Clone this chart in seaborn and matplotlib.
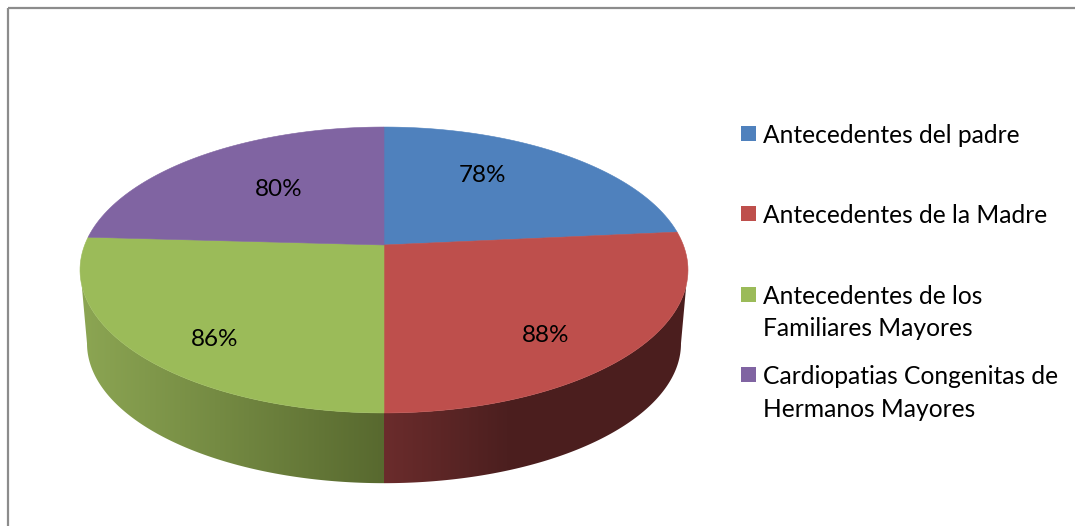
import numpy as np
import matplotlib
matplotlib.use("Agg")
import matplotlib.pyplot as plt
import seaborn as sns
from matplotlib.colors import LinearSegmentedColormap
from matplotlib.patches import Polygon, Rectangle
from matplotlib.path import Path
from matplotlib.transforms import Affine2D, Transform

# ---- data ----
categories = ["Antecedentes del padre", "Antecedentes de la Madre",
              "Antecedentes de los\nFamiliares Mayores",
              "Cardiopatias Congenitas de\nHermanos Mayores"]
values = [78, 88, 86, 80]
colors = ["#4F81BD", "#BE4F4C", "#9BBB59", "#8064A2"]

# ---- layout (figure pixels) ----
W, H = 1075, 526
CX, CY = 384, 245          # pie apex on screen
A, B, K = 299.3, 138.6, 0.1748   # perspective of the lid
DEPTH_CY, DEPTH_S = 343.5, 0.977  # floor ellipse
VIS_FROM, VIS_TO = 106, 254      # visible rim, degrees clockwise from top
BOTTOM_FROM, BOTTOM_TO = 100, 260
pct_xy = [(482, 176), (546, 335), (215, 339), (279, 190)]
swatch_y = [126, 206, 287, 367]
text_base = [[143], [223], [304, 336], [384, 417]]
side_ramps = {1: (384, 690, [(0, "#6B2C2C"), (0.4, "#4C1F1F"), (1, "#4B1E1E")]),
              2: (80, 384, [(0, "#8CA653"), (1, "#58692F")])}

sns.set_theme(style="white")
plt.rcParams["font.family"] = ["Lato", "DejaVu Sans"]


class Perspective(Transform):
    input_dims = output_dims = 2

    def transform_non_affine(self, xy):
        xy = np.asarray(xy, float)
        w = 1 + K * xy[:, 1]
        return np.column_stack([CX + A * xy[:, 0] / w, CY - B * xy[:, 1] / w])

    def transform_path_non_affine(self, path):
        polys = path.to_polygons(Affine2D().scale(2000))
        verts = np.concatenate(polys) / 2000
        return Path(self.transform_non_affine(verts))


def rim(deg):
    a = np.radians(deg)
    return Perspective().transform_non_affine(np.column_stack([np.sin(a), np.cos(a)]))


def floor(deg):
    p = rim(deg)
    cy = CY + B * K / (1 - K ** 2)
    return np.column_stack([CX + (p[:, 0] - CX) * DEPTH_S,
                            DEPTH_CY + (p[:, 1] - cy) * DEPTH_S])


fig = plt.figure(figsize=(W / 100, H / 100), dpi=100, facecolor="white")
ax = fig.add_axes([0, 0, 1, 1])
wedges, _ = ax.pie(values, colors=sns.color_palette(colors), startangle=90,
                   counterclock=False, radius=1,
                   wedgeprops=dict(linewidth=0.4, zorder=5))
proj = Perspective()
for wd in wedges:
    wd.set_edgecolor(wd.get_facecolor())
    wd.set_transform(proj + ax.transData)

# pie side wall
for i, wd in enumerate(wedges):
    if i not in side_ramps:
        continue
    a1, a2 = 90 - wd.theta2, 90 - wd.theta1
    lo_t, hi_t = max(a1, VIS_FROM), min(a2, VIS_TO)
    lo_b, hi_b = max(a1, BOTTOM_FROM), min(a2, BOTTOM_TO)
    x0, x1, stops = side_ramps[i]
    poly = np.vstack([rim(np.linspace(lo_t, hi_t, 120)),
                      floor(np.linspace(hi_b, lo_b, 120))])
    cmap = LinearSegmentedColormap.from_list(f"side{i}", stops)
    im = ax.imshow(np.linspace(0, 1, 256)[None, :], cmap=cmap, aspect="auto",
                   extent=(x0, x1, 500, 200), zorder=2, interpolation="bilinear")
    im.set_clip_path(Polygon(poly, closed=True, transform=ax.transData))

ax.set_aspect("auto")
ax.set_xlim(0, W)
ax.set_ylim(H, 0)
ax.axis("off")

# percentage labels
for v, (x, y) in zip(values, pct_xy):
    ax.text(x, y, f"{v}%", ha="center", va="center", fontsize=17.5, color="black", zorder=6)

# legend
for c, lab, sy, bases in zip(colors, categories, swatch_y, text_base):
    ax.add_patch(Rectangle((741, sy), 15, 15, facecolor=c, edgecolor="none", zorder=6))
    for line, by in zip(lab.split("\n"), bases):
        ax.text(763, by, line, ha="left", va="baseline", fontsize=17.7, color="black", zorder=6)

# outer frame (left and top only visible)
ax.plot([8, 8], [H, 8], color="#8C8C8C", lw=1.6, solid_capstyle="butt", zorder=7)
ax.plot([8, W], [8, 8], color="#8C8C8C", lw=1.6, solid_capstyle="butt", zorder=7)

fig.savefig("out.png", dpi=100, facecolor="white")
